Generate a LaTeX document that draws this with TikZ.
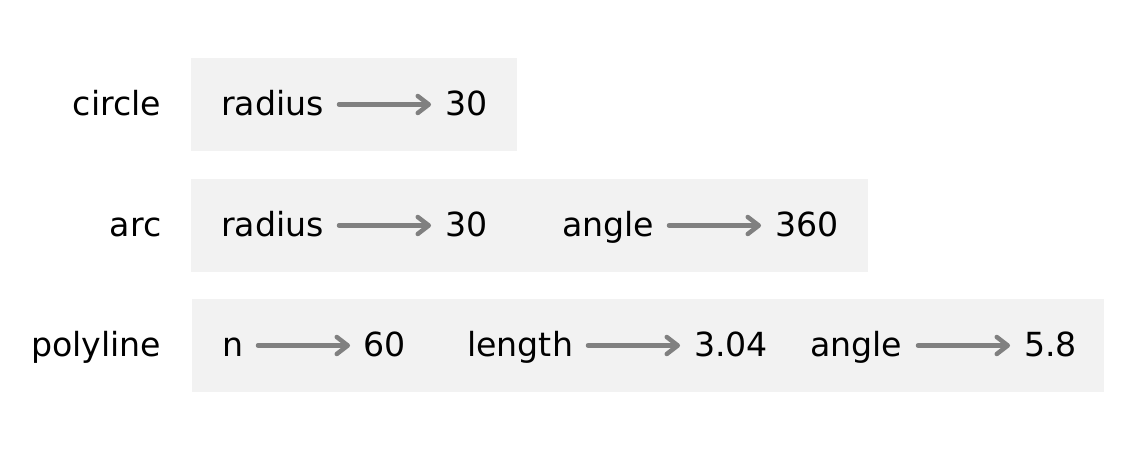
\documentclass[tikz,border=0pt]{standalone}
\usepackage{fontspec}
\setmainfont{DejaVu Sans}
\usetikzlibrary{arrows.meta}
\definecolor{boxfill}{RGB}{242,242,242}
\definecolor{arrowgray}{RGB}{128,128,128}
\tikzset{
  frame/.style={fill=boxfill, draw=none},
  lbl/.style={anchor=base west, inner sep=0pt, font=\fontsize{33.2}{40}\selectfont},
  fname/.style={anchor=base east, inner sep=0pt, font=\fontsize{33.2}{40}\selectfont},
  ptr/.style={draw=arrowgray, line width=4.5pt, line cap=round, -{Straight Barb[length=11pt,width=17pt,line cap=round,line join=round]}}
}
\begin{document}
\begin{tikzpicture}[x=1pt,y=-1pt]
\useasboundingbox (0,0) rectangle (1134,453);
% frames
\fill[frame] (191,58) rectangle (517,151);
\fill[frame] (191,179) rectangle (868,272);
\fill[frame] (192,299) rectangle (1104,392);
% function names
\node[fname] (fc) at (161.5,115) {circle};
\node[fname] (fa) at (161.5,236) {arc};
\node[fname] (fp) at (161.5,356) {polyline};
% circle
\node[lbl] (c1) at (221,115) {radius};
\node[lbl] (c1v) at (445,115) {30};
\coordinate (c1s) at (339,104.5); \coordinate (c1e) at (431,104.5);
\draw[ptr] (c1s) -- (c1e);
% arc
\node[lbl] (a1) at (221,236) {radius};
\node[lbl] (a1v) at (445,236) {30};
\coordinate (a1s) at (339,225.5); \coordinate (a1e) at (431,225.5);
\draw[ptr] (a1s) -- (a1e);
\node[lbl] (a2) at (562,236) {angle};
\node[lbl] (a2v) at (775,236) {360};
\coordinate (a2s) at (669,225.5); \coordinate (a2e) at (761,225.5);
\draw[ptr] (a2s) -- (a2e);
% polyline
\node[lbl] (p1) at (222,356) {n};
\node[lbl] (p1v) at (363,356) {60};
\coordinate (p1s) at (258,345.5); \coordinate (p1e) at (350,345.5);
\draw[ptr] (p1s) -- (p1e);
\node[lbl] (p2) at (467,356) {length};
\node[lbl] (p2v) at (694,356) {3.04};
\coordinate (p2s) at (588,345.5); \coordinate (p2e) at (680,345.5);
\draw[ptr] (p2s) -- (p2e);
\node[lbl] (p3) at (810,356) {angle};
\node[lbl] (p3v) at (1024,356) {5.8};
\coordinate (p3s) at (918,345.5); \coordinate (p3e) at (1010,345.5);
\draw[ptr] (p3s) -- (p3e);
\end{tikzpicture}
\end{document}
